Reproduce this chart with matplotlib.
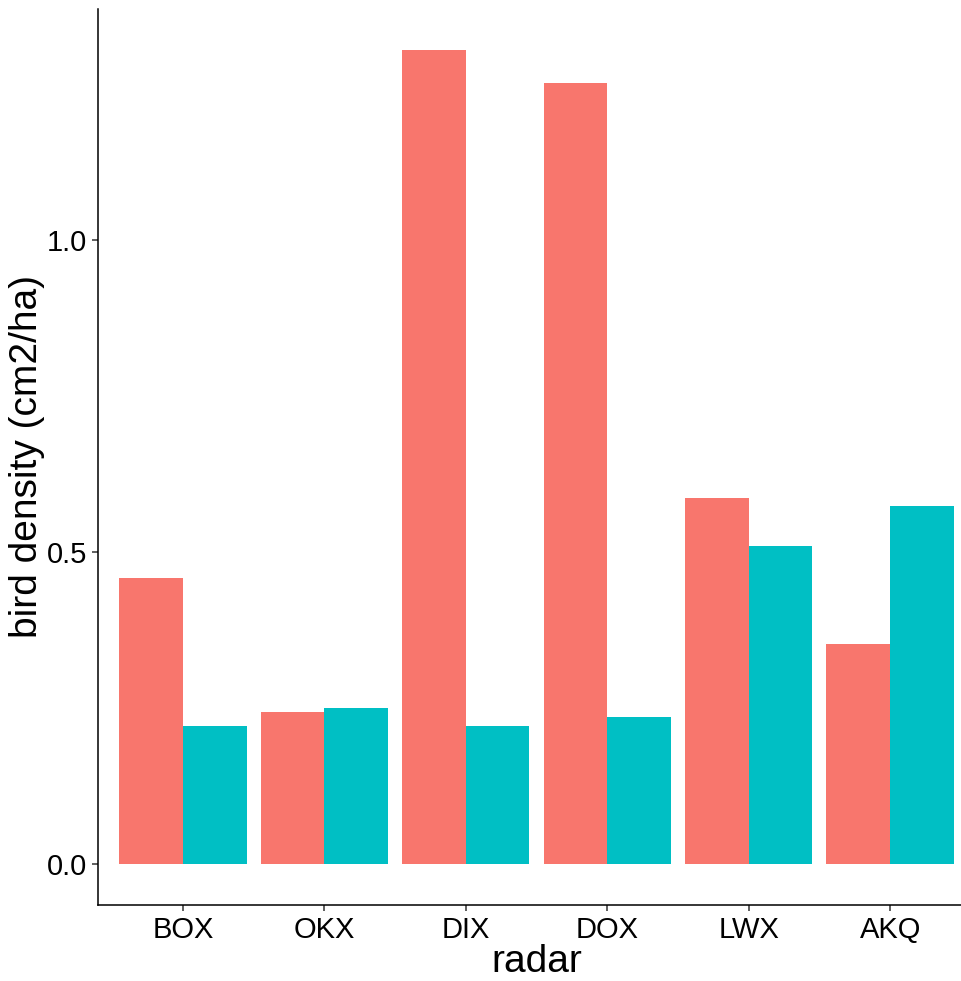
import numpy as np
import matplotlib
matplotlib.use('Agg')
import matplotlib.pyplot as plt

radars = ['BOX', 'OKX', 'DIX', 'DOX', 'LWX', 'AKQ']
red_vals = [0.459, 0.243, 1.304, 1.250, 0.587, 0.352]
teal_vals = [0.221, 0.250, 0.221, 0.235, 0.509, 0.573]

plt.rcParams['font.family'] = ['Liberation Sans', 'DejaVu Sans']

fig = plt.figure(figsize=(9.62, 9.81), dpi=100)
ax = fig.add_axes([98 / 962, 76 / 981, 877 / 962, 896 / 981])

x = np.arange(1, len(radars) + 1)
w = 0.45
ax.bar(x - w / 2, red_vals, width=w, color='#F8766D')
ax.bar(x + w / 2, teal_vals, width=w, color='#00BFC4')

ymax = max(max(red_vals), max(teal_vals))
pad = ymax * 0.05
ax.set_ylim(-pad, ymax + pad)
ax.set_xlim(0.4, len(radars) + 0.6)

ax.set_xticks(x)
ax.set_xticklabels(radars)
ax.set_yticks([0.0, 0.5, 1.0])
ax.set_yticklabels(['0.0', '0.5', '1.0'])

for s in ['top', 'right']:
    ax.spines[s].set_visible(False)
for s in ['left', 'bottom']:
    ax.spines[s].set_linewidth(1.1)
ax.tick_params(axis='both', labelsize=21, colors='#333333', labelcolor='black',
               length=4, width=1.1, pad=4)

ax.set_xlabel('radar', fontsize=28, labelpad=0)
ax.set_ylabel('bird density (cm2/ha)', fontsize=28, labelpad=1)

plt.savefig('out.png', dpi=100)
